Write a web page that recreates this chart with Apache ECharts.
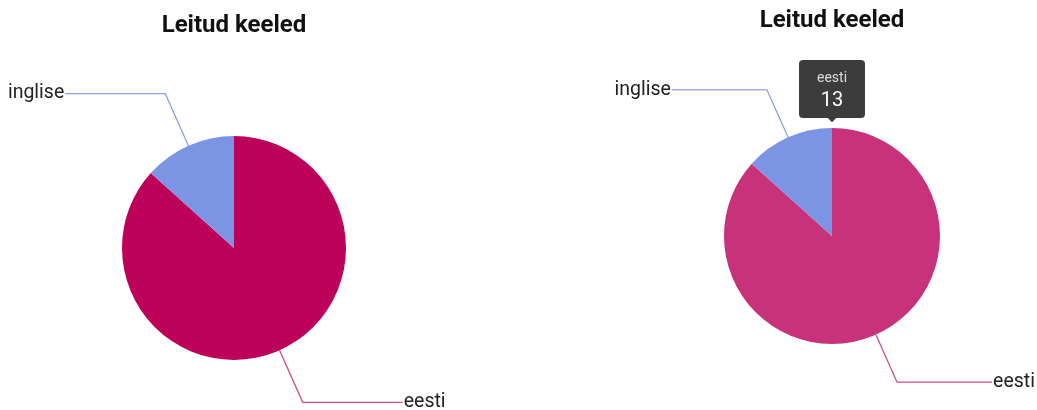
<!DOCTYPE html>
<html>
<head>
<meta charset="utf-8">
<script src="https://cdn.jsdelivr.net/npm/echarts@6/dist/echarts.min.js"></script>
<style>
html,body{margin:0;padding:0;background:#fff;}
#chart{width:1037px;height:410px;}
</style>
</head>
<body>
<div id="chart"></div>
<script>
const titleText = 'Leitud keeled';
const categories = ['eesti', 'inglise'];
const values = [13, 2];
const leftColors = ['#bd0059', '#7b94e4'];
const rightColors = ['#c8327a', '#7b94e4'];
const lineColors = ['#cc4a88', '#8aa0e6'];

const chart = echarts.init(document.getElementById('chart'), null, {renderer: 'canvas'});

function makeData(colors) {
  return categories.map((c, i) => ({
    name: c,
    value: values[i],
    itemStyle: {color: colors[i]},
    labelLine: {lineStyle: {color: lineColors[i], width: 1.3, opacity: 1}}
  }));
}

const labelStyle = {
  show: true,
  position: 'outside',
  fontFamily: 'Roboto',
  fontSize: 19.5,
  color: '#222',
  padding: [4, 0, 0, 0],
  distanceToLabelLine: 1
};

chart.setOption({
  animation: false,
  title: [
    {text: titleText, left: 234, top: 14, textAlign: 'center', padding: 0,
     textStyle: {fontFamily: 'Roboto', fontWeight: 'bold', fontSize: 24, color: '#111'}},
    {text: titleText, left: 832, top: 9, textAlign: 'center', padding: 0,
     textStyle: {fontFamily: 'Roboto', fontWeight: 'bold', fontSize: 24, color: '#111'}}
  ],
  tooltip: {
    trigger: 'item',
    triggerOn: 'none',
    alwaysShowContent: true,
    position: 'top',
    transitionDuration: 0,
    backgroundColor: '#3c3c3c',
    borderWidth: 0,
    borderRadius: 4,
    padding: [7, 18, 7, 18],
    extraCssText: 'box-shadow:none;margin-top:-2px;',
    formatter: function (p) {
      return '<div style="text-align:center;font-family:Roboto;font-size:14px;line-height:20px;color:#ddd">' + p.name +
        '</div><div style="text-align:center;font-family:Roboto;font-size:20px;line-height:24px;color:#fff">' + p.value + '</div>';
    }
  },
  series: [
    {
      type: 'pie',
      center: [234, 248],
      radius: 112,
      startAngle: 90,
      clockwise: true,
      avoidLabelOverlap: false,
      emphasis: {disabled: true},
      label: labelStyle,
      labelLine: {show: true, length: 57, length2: 100, smooth: false},
      data: makeData(leftColors)
    },
    {
      type: 'pie',
      center: [832, 236],
      radius: 108,
      startAngle: 90,
      clockwise: true,
      avoidLabelOverlap: false,
      emphasis: {disabled: true},
      label: labelStyle,
      labelLine: {show: true, length: 52, length2: 95, smooth: false},
      data: makeData(rightColors)
    }
  ]
});

chart.dispatchAction({type: 'showTip', seriesIndex: 1, dataIndex: 0});
</script>
</body>
</html>
